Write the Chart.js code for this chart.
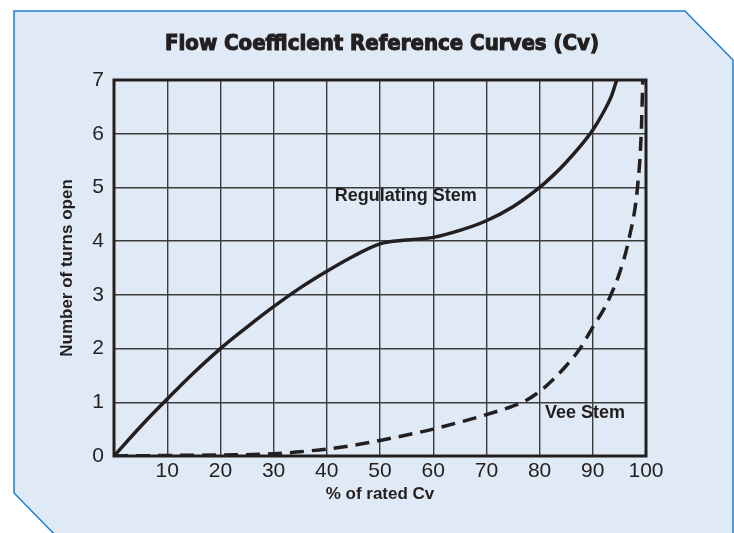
<!DOCTYPE html>
<html>
<head>
<meta charset="utf-8">
<script src="https://cdn.jsdelivr.net/npm/chart.js@4"></script>
<style>
  html, body { margin: 0; padding: 0; background: #ffffff; }
  #wrap { width: 734px; height: 533px; }
</style>
</head>
<body>
<div id="wrap"><canvas id="cvChart" width="734" height="533"></canvas></div>
<script>
// Valores
const regX = [0, 5, 10, 15, 20, 25, 30, 35, 40, 45, 50, 55, 60, 65, 70, 75, 80, 82.5, 85, 87.5, 90, 92, 93.5, 94.5];
const regY = [0, 0.55, 1.06, 1.55, 2.0, 2.4, 2.78, 3.13, 3.44, 3.72, 3.95, 4.02, 4.07, 4.2, 4.38, 4.64, 5.0, 5.22, 5.47, 5.75, 6.07, 6.4, 6.7, 7.0];

const veeX = [0, 10, 20, 30, 35, 40, 45, 50, 55, 60, 65, 70, 75, 77, 80, 82.5, 85, 87.6, 90, 92, 93.4, 95, 96.7, 98.4, 99.1, 99.4];
const veeY = [0, 0.01, 0.02, 0.04, 0.08, 0.13, 0.2, 0.29, 0.39, 0.5, 0.63, 0.77, 0.93, 1.01, 1.2, 1.42, 1.68, 2.0, 2.4, 2.72, 3.0, 3.4, 4.0, 5.0, 6.0, 7.0];

const xTicks = [10, 20, 30, 40, 50, 60, 70, 80, 90, 100];
const chartTitle = 'Flow Coefficient Reference Curves (Cv)';
const curveNames = ['Regulating Stem', 'Vee Stem'];
const namePosX = [41.5, 81];
const namePosY = [4.84, 0.8];

const toPoints = (xs, ys) => xs.map((x, i) => ({ x: x, y: ys[i] }));

// Fondo azul con esquinas cortadas
const fondo = {
    id: 'fondo',
    beforeDraw(chart) {
        const ctx = chart.ctx;
        ctx.save();
        ctx.beginPath();
        ctx.moveTo(14, 11);
        ctx.lineTo(685, 11);
        ctx.lineTo(733, 60);
        ctx.lineTo(733, 540);
        ctx.lineTo(60, 540);
        ctx.lineTo(14, 493);
        ctx.closePath();
        ctx.fillStyle = '#e0eaf6';
        ctx.fill();
        ctx.lineWidth = 1.5;
        ctx.strokeStyle = '#1f7fce';
        ctx.stroke();
        ctx.restore();
    }
};

// Titulo, marco y nombres de las curvas
const marco = {
    id: 'marco',
    afterDatasetsDraw(chart) {
        const { ctx, chartArea, scales } = chart;
        ctx.save();
        ctx.lineWidth = 3;
        ctx.strokeStyle = '#231f20';
        ctx.strokeRect(chartArea.left, chartArea.top, chartArea.right - chartArea.left, chartArea.bottom - chartArea.top);

        ctx.fillStyle = '#231f20';
        ctx.textAlign = 'center';
        ctx.textBaseline = 'middle';
        ctx.font = 'bold 22px "DejaVu Sans Condensed", "DejaVu Sans", sans-serif';
        ctx.lineWidth = 1.1;
        const cx = (chartArea.left + chartArea.right) / 2 + 2;
        ctx.fillText(chartTitle, cx, 44);
        ctx.strokeText(chartTitle, cx, 44);

        ctx.font = 'bold 18px "Liberation Sans", Arial, sans-serif';
        ctx.textAlign = 'left';
        curveNames.forEach((name, i) => {
            ctx.fillText(name, scales.x.getPixelForValue(namePosX[i]), scales.y.getPixelForValue(namePosY[i]));
        });
        ctx.restore();
    }
};

new Chart(document.getElementById('cvChart'), {
    type: 'line',
    data: {
        datasets: [{
            label: curveNames[0],
            data: toPoints(regX, regY),
            borderColor: '#231f20',
            borderWidth: 3.5,
            pointRadius: 0,
            cubicInterpolationMode: 'monotone',
            fill: false
        }, {
            label: curveNames[1],
            data: toPoints(veeX, veeY),
            borderColor: '#231f20',
            borderWidth: 3.5,
            borderDash: [14, 8],
            pointRadius: 0,
            cubicInterpolationMode: 'monotone',
            fill: false
        }]
    },
    options: {
        responsive: false,
        animation: false,
        layout: { padding: { top: 80, right: 88, left: 0, bottom: 0 } },
        plugins: {
            legend: { display: false },
            tooltip: { enabled: false },
            title: { display: false }
        },
        scales: {
            x: {
                type: 'linear',
                min: 0,
                max: 100,
                afterFit: (scale) => { scale.height = 77; },
                afterBuildTicks: (scale) => { scale.ticks = [0].concat(xTicks).map(v => ({ value: v })); },
                ticks: {
                    color: '#231f20',
                    padding: 3,
                    maxRotation: 0,
                    font: { family: '"Liberation Sans", Arial, sans-serif', size: 21 },
                    callback: (v) => v === 0 ? '' : v
                },
                grid: { color: '#3c3c3c', lineWidth: 1.4, drawTicks: false },
                border: { display: false },
                title: {
                    display: true,
                    text: '% of rated Cv',
                    color: '#231f20',
                    font: { family: '"Liberation Sans", Arial, sans-serif', size: 17, weight: 'bold' },
                    padding: { bottom: 28 }
                }
            },
            y: {
                min: 0,
                max: 7,
                afterFit: (scale) => { scale.width = 114; },
                ticks: {
                    stepSize: 1,
                    color: '#231f20',
                    padding: 10,
                    font: { family: '"Liberation Sans", Arial, sans-serif', size: 21 }
                },
                grid: { color: '#3c3c3c', lineWidth: 1.4, drawTicks: false },
                border: { display: false },
                title: {
                    display: true,
                    text: 'Number of turns open',
                    color: '#231f20',
                    font: { family: '"Liberation Sans", Arial, sans-serif', size: 17, weight: 'bold' },
                    padding: { top: 57 }
                }
            }
        }
    },
    plugins: [fondo, marco]
});
</script>
</body>
</html>
